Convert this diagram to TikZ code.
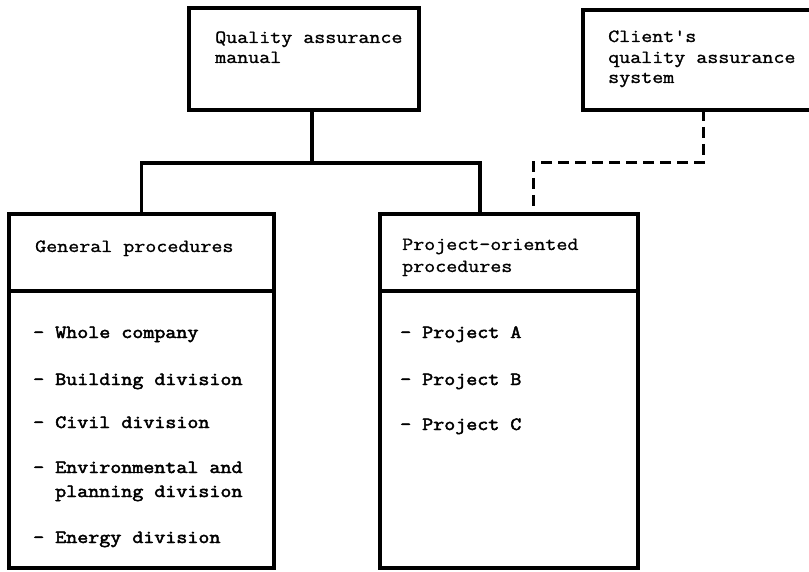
\documentclass[tikz,border=0pt]{standalone}
\usepackage{fontspec}
\newfontfamily\twfont[FakeStretch=1.15,FakeBold=1.2,Ligatures=TeXOff]{Latin Modern Mono}
\newfontfamily\twbold[FakeStretch=1.15,FakeBold=2.6,Ligatures=TeXOff]{Latin Modern Mono}

\tikzset{
  boxnode/.style={draw, line width=3.2pt, inner sep=0pt, outer sep=0pt, anchor=north west},
  hdtext/.style={anchor=base west, inner sep=0pt, font=\twfont\fontsize{18.6}{21}\selectfont},
  itemtext/.style={anchor=base west, inner sep=0pt, font=\twbold\fontsize{18.6}{21}\selectfont},
  link/.style={line width=3.2pt},
  dashlink/.style={line width=3pt, dash pattern=on 11pt off 6pt},
}

\begin{document}
\begin{tikzpicture}[x=1pt,y=1pt,yscale=-1,xscale=1]
\clip (0,0) rectangle (809,572);
\fill[white] (0,0) rectangle (809,572);

%Boxes
\node[boxnode, minimum width=230pt, minimum height=102pt] (qam) at (189,8) {};
\node[boxnode, minimum width=240pt, minimum height=100pt] (client) at (583,10) {};
\node[boxnode, minimum width=265pt, minimum height=77pt] (gen) at (9,214) {};
\node[boxnode, minimum width=265pt, minimum height=277pt] (genlist) at (9,291) {};
\node[boxnode, minimum width=258pt, minimum height=77pt] (proj) at (380,214) {};
\node[boxnode, minimum width=258pt, minimum height=277pt] (projlist) at (380,291) {};

%Connectors
\coordinate (jm) at (312,163);
\coordinate (jr) at (480,163);
\coordinate (jd) at (533,163);
\draw[link] (jm |- qam.south) -- (jm);
\draw[link] (gen.north) |- (jr) -- (jr |- proj.north);
\draw[dashlink] (client.south) |- (jd) -- (jd |- proj.north);

% Text Node
\node[hdtext] (qamA) at (215,43) {Quality assurance};
\node[hdtext] (qamB) at (215,63) {manual};
% Text Node
\node[hdtext] (clientA) at (608,42) {Client's};
\node[hdtext] (clientB) at (608,63) {quality assurance};
\node[hdtext] (clientC) at (608,83) {system};
% Text Node
\node[hdtext] (genhead) at (35,252) {General procedures};
\node[hdtext] (projheadA) at (402,250) {Project-oriented};
\node[hdtext] (projheadB) at (402,272) {procedures};
% Text Node
\node[itemtext] (whole) at (33,338) {- Whole company};
\node[itemtext] (building) at (33,385) {- Building division};
\node[itemtext] (civil) at (33,428) {- Civil division};
\node[itemtext] (envA) at (33,473) {- Environmental and};
\node[itemtext] (envB) at (55,497) {planning division};
\node[itemtext] (energy) at (33,543) {- Energy division};
% Text Node
\node[itemtext] (projA) at (400,338) {- Project A};
\node[itemtext] (projB) at (400,385) {- Project B};
\node[itemtext] (projC) at (400,430) {- Project C};

\end{tikzpicture}
\end{document}
